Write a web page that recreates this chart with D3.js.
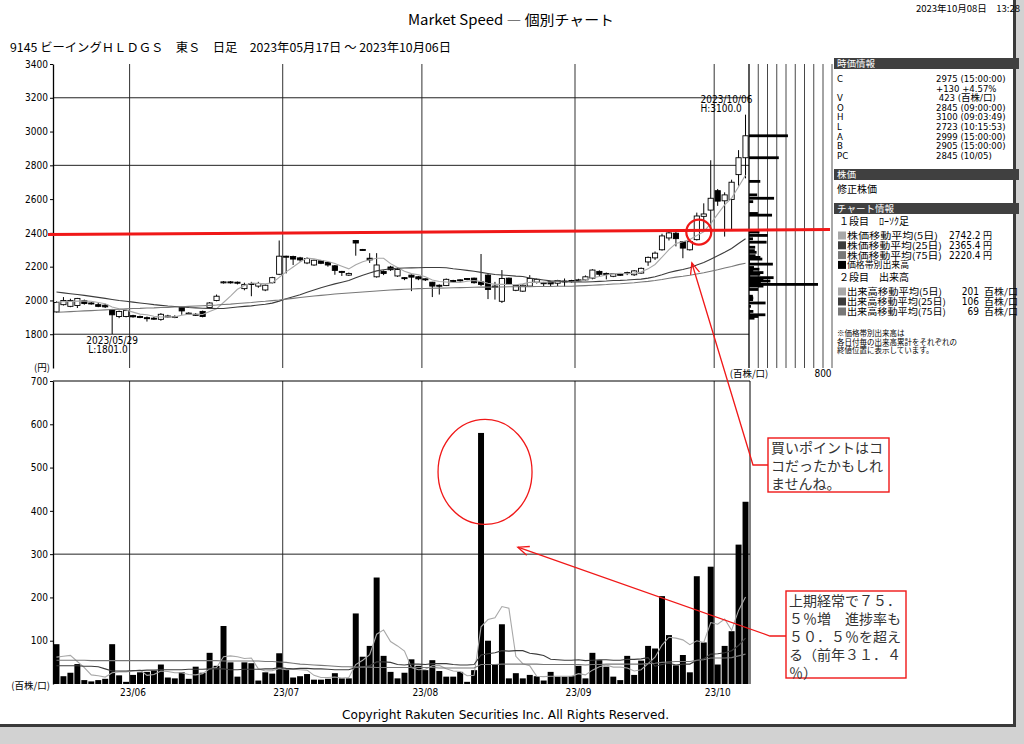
<!DOCTYPE html>
<html>
<head>
<meta charset="utf-8">
<script src="https://cdn.jsdelivr.net/npm/d3@7"></script>
<style>
body { margin: 0; background: #d2d2d2; }
svg { display: block; }
</style>
</head>
<body>
<svg id="chart" width="1024" height="744"></svg>
<script>
// daily candles 2023/05/17 - 2023/10/06 (100 trading days)
const open = [1932,1975,1965,1970,1998,1985,1975,1972,1945,1905,1905,1910,1905,1898,1895,1888,1905,1905,1958,1925,
    1918,1935,1958,2000,2105,2110,2108,2070,2100,2085,2062,2105,2155,2262,2260,2252,2222,2210,2235,2225,
    2205,2172,2150,2355,2302,2250,2140,2172,2198,2145,2135,2150,2140,2128,2108,2090,2088,2118,2122,2130,
    2132,2110,2150,2085,1995,2132,2060,2055,2085,2108,2100,2112,2102,2112,2118,2120,2122,2132,2172,2160,
    2143,2155,2160,2152,2162,2228,2252,2300,2370,2398,2348,2300,2360,2498,2535,2650,2590,2598,2745,2845];
const high = [1995,2020,2010,2015,2005,1990,1985,1980,1950,1940,1945,1915,1910,1905,1902,1925,1915,1912,1962,1930,
    1925,1940,1990,2035,2115,2115,2112,2105,2110,2110,2095,2140,2355,2265,2265,2258,2255,2242,2240,2228,
    2210,2175,2165,2358,2305,2280,2280,2178,2205,2192,2138,2155,2145,2130,2110,2095,2130,2122,2125,2132,
    2135,2275,2155,2110,2180,2135,2092,2095,2150,2130,2110,2115,2122,2130,2122,2128,2148,2185,2178,2165,
    2162,2160,2170,2180,2195,2260,2290,2395,2405,2405,2352,2355,2520,2575,2830,2660,2640,2715,2890,3100];
const low = [1928,1970,1960,1955,1975,1975,1960,1955,1801,1895,1900,1898,1895,1875,1885,1880,1898,1895,1915,1920,
    1908,1900,1950,1995,2100,2100,2095,2060,2025,2075,2055,2100,2150,2160,2210,2230,2215,2205,2215,2200,
    2152,2145,2145,2265,2295,2222,2135,2150,2175,2140,2120,2055,2120,2115,2020,2035,2085,2110,2112,2120,
    2100,2085,2008,2005,1985,2095,2055,2050,2080,2100,2085,2082,2085,2082,2105,2112,2118,2125,2140,2125,
    2138,2145,2150,2145,2158,2205,2240,2295,2355,2320,2250,2295,2355,2418,2380,2560,2378,2420,2680,2723];
const close = [1988,2000,2000,2012,1982,1980,1965,1962,1915,1935,1940,1903,1900,1896,1892,1918,1908,1902,1938,1925,
    1915,1905,1985,2025,2110,2105,2105,2095,2098,2100,2090,2135,2262,2258,2245,2240,2248,2238,2220,2210,
    2178,2168,2160,2340,2298,2240,2210,2160,2182,2183,2130,2138,2128,2122,2085,2085,2125,2115,2118,2128,
    2105,2095,2065,2080,2130,2100,2088,2090,2130,2125,2105,2098,2118,2115,2115,2122,2140,2180,2155,2158,
    2158,2152,2165,2175,2190,2255,2280,2382,2400,2366,2310,2348,2500,2512,2605,2588,2625,2700,2845,2975];
// volume (百株/口)
const volume = [92,18,26,46,9,6,9,12,92,20,5,21,27,28,31,45,15,13,27,12,
    40,26,72,42,134,50,17,50,48,8,27,24,71,35,15,18,23,10,10,12,
    25,13,13,163,63,88,246,65,28,13,26,57,42,32,55,30,17,17,28,5,
    32,580,100,46,138,13,25,13,21,18,8,28,17,17,18,42,13,72,55,40,
    17,9,65,21,54,88,82,203,113,43,67,27,249,96,271,45,88,122,322,421];

// moving averages as drawn
const ma5 = [1990,1992,1994,1996,1996,1995,1988,1980,1961,1951,1943,1931,1919,1915,1906,1902,1903,1903,1912,1918,
    1918,1917,1934,1951,1988,2026,2066,2088,2103,2101,2098,2104,2137,2169,2198,2228,2251,2246,2238,2231,
    2219,2203,2187,2211,2229,2241,2250,2250,2218,2195,2173,2159,2152,2140,2121,2112,2109,2106,2106,2114,
    2118,2112,2102,2095,2095,2094,2093,2098,2108,2107,2108,2110,2115,2112,2110,2114,2122,2134,2142,2151,
    2158,2161,2158,2162,2168,2187,2213,2256,2301,2337,2348,2361,2385,2407,2455,2511,2566,2606,2673,2742];
const ma25 = [2050,2045,2040,2035,2030,2024,2018,2012,2006,2000,1995,1990,1985,1980,1975,1971,1967,1964,1961,1958,
    1956,1954,1953,1952,1952,1957,1961,1965,1968,1973,1977,1984,1996,2010,2022,2034,2048,2062,2075,2087,
    2098,2108,2118,2134,2149,2162,2175,2182,2188,2191,2192,2193,2194,2195,2195,2195,2194,2188,2183,2178,
    2173,2166,2160,2154,2151,2148,2144,2142,2133,2126,2121,2116,2115,2112,2109,2109,2109,2111,2113,2115,
    2118,2119,2121,2124,2126,2132,2140,2152,2165,2175,2183,2193,2210,2225,2244,2264,2285,2308,2337,2365];
const ma75 = [1930,1932,1934,1936,1938,1940,1942,1944,1946,1948,1950,1952,1953,1955,1956,1958,1959,1961,1963,1965,
    1967,1969,1971,1973,1976,1978,1982,1985,1988,1992,1995,1999,2003,2008,2012,2017,2022,2026,2030,2034,
    2038,2041,2044,2047,2050,2053,2056,2059,2062,2064,2066,2068,2070,2071,2072,2073,2074,2075,2076,2077,
    2078,2079,2079,2080,2080,2081,2081,2082,2082,2083,2083,2083,2084,2084,2084,2086,2088,2090,2092,2094,
    2097,2099,2102,2105,2109,2113,2118,2124,2131,2138,2143,2149,2157,2164,2173,2182,2192,2201,2212,2220];
const vma5 = [62,64,66,52,38,21,19,16,26,28,28,30,33,20,22,30,29,26,26,22,
    21,24,35,38,63,65,63,59,60,35,30,31,36,33,34,33,32,20,15,15,
    16,14,15,45,55,68,115,125,98,88,76,38,33,34,42,43,35,30,29,19,
    20,132,149,153,179,175,64,47,42,18,17,18,18,18,18,24,21,32,40,44,
    39,39,37,30,33,47,62,90,108,106,102,91,100,96,142,138,150,124,170,201];
const vma25 = [42,42,42,42,41,41,40,35,30,30,30,31,31,32,32,33,33,33,33,34,
    34,34,35,35,35,33,33,34,34,34,35,35,38,36,35,36,36,35,35,34,
    33,33,33,38,40,42,51,51,50,45,44,46,46,45,47,47,47,45,44,44,
    45,67,70,72,77,76,77,77,71,69,66,57,56,55,55,56,54,55,56,56,
    55,55,57,57,58,61,41,45,48,44,46,46,55,58,69,70,72,77,89,106];
const vma75 = [55,55,55,55,55,54,54,54,54,54,54,54,54,54,54,54,54,54,54,54,
    54,54,54,54,53,53,53,53,53,53,52,52,51,50,48,46,45,44,43,42,
    41,40,40,39,39,39,38,38,38,38,38,38,38,38,38,37,37,37,37,37,
    37,45,45,45,46,46,46,46,46,46,45,45,45,45,45,45,44,45,45,46,
    46,46,46,46,46,47,48,50,51,52,52,52,55,56,60,60,60,61,65,69];

const monthStart = [11, 33, 53, 75, 95];
const monthLabels = ['23/06', '23/07', '23/08', '23/09', '23/10'];
const priceTicks = [1800, 2000, 2200, 2400, 2600, 2800, 3000, 3200, 3400];
const priceGrid = [1800, 2800, 3200];
const volumeTicks = [100, 200, 300, 400, 500, 600, 700];
const volumeGrid = [300];
const vbpTicks = [0, 100, 200, 300, 400, 500, 600, 700, 800];

const infoKeys = ['C', '', 'V', 'O', 'H', 'L', 'A', 'B', 'PC'];
const infoValues = ['2975 (15:00:00)', '+130 +4.57%', ' 423 (百株/口)', '2845 (09:00:00)', '3100 (09:03:49)',
    '2723 (10:15:53)', '2999 (15:00:00)', '2905 (15:00:00)', '2845 (10/05)'];
const priceLegend = ['株価移動平均(5日)', '株価移動平均(25日)', '株価移動平均(75日)', '価格帯別出来高'];
const priceLegendValues = ['2742.2', '2365.4', '2220.4', ''];
const volumeLegend = ['出来高移動平均(5日)', '出来高移動平均(25日)', '出来高移動平均(75日)'];
const volumeLegendValues = ['201', '106', '69'];
const noteLines = ['※価格帯別出来高は', '各日付毎の出来高累計をそれぞれの', '終値位置に表示しています。'];
const memo1 = ['買いポイントはコ', 'コだったかもしれ', 'ませんね。'];
const memo2 = ['上期経常で７５．', '５％増　進捗率も', '５０．５％を超え', 'る（前年３１．４', '％）'];

const NARROW = '"Liberation Sans Narrow", "DejaVu Sans Condensed", "Noto Sans CJK JP", sans-serif';
const JP = '"Noto Sans CJK JP", sans-serif';
const maColors = ['#a8a8a8', '#3c3c3c', '#787878', '#000'];

const svg = d3.select('#chart');

// paper
svg.append('rect').attr('x', 0).attr('y', 0).attr('width', 1016).attr('height', 727).attr('fill', '#3a3a3a');
svg.append('rect').attr('x', 0).attr('y', 0).attr('width', 1013).attr('height', 724).attr('fill', '#fff');

// scales
const days = close.map((d, i) => i);
const x = d3.scaleBand().domain(days).range([53, 749]);
const bw = x.bandwidth();
const cx = i => x(i) + bw / 2;
const y = d3.scaleLinear().domain([1600, 3400]).range([368, 64]);
const vy = d3.scaleLinear().domain([0, 700]).range([684, 381]);
const vbx = d3.scaleLinear().domain([0, 800]).range([749, 823]);

// header
svg.append('text').attr('x', 916).attr('y', 12).attr('font-family', JP).attr('font-size', 9.5)
    .attr('textLength', 104).attr('lengthAdjust', 'spacingAndGlyphs').text('2023年10月08日　13:28');
svg.append('text').attr('x', 408).attr('y', 25).attr('font-family', JP).attr('font-size', 14)
    .attr('textLength', 206).attr('lengthAdjust', 'spacingAndGlyphs').text('Market Speed ― 個別チャート');
svg.append('text').attr('x', 10).attr('y', 52).attr('font-family', JP).attr('font-size', 12)
    .attr('textLength', 441).attr('lengthAdjust', 'spacingAndGlyphs')
    .text('9145 ビーイングＨＬＤＧＳ　東Ｓ　日足　2023年05月17日 ～ 2023年10月06日');
svg.append('text').attr('x', 342).attr('y', 719).attr('font-family', NARROW).attr('font-size', 12)
    .attr('textLength', 327).attr('lengthAdjust', 'spacingAndGlyphs')
    .text('Copyright Rakuten Securities Inc. All Rights Reserved.');

// ---- price panel ----
const priceG = svg.append('g');
priceG.selectAll('.vgrid').data(monthStart).join('line')
    .attr('x1', d => x(d)).attr('x2', d => x(d)).attr('y1', 64).attr('y2', 368)
    .attr('stroke', '#444').attr('stroke-width', 1.1);
priceG.selectAll('.hgrid').data(priceGrid).join('line')
    .attr('x1', 53).attr('x2', 749).attr('y1', d => y(d)).attr('y2', d => y(d))
    .attr('stroke', '#222').attr('stroke-width', 1);

// volume by price grid
priceG.selectAll('.vbgrid').data(vbpTicks).join('line')
    .attr('x1', d => vbx(d)).attr('x2', d => vbx(d)).attr('y1', 64).attr('y2', 368)
    .attr('stroke', d => d === 0 ? '#000' : '#333').attr('stroke-width', d => d === 0 ? 1.3 : 0.9);

// volume by price: each day's volume piled at its close
const vbp = d3.rollups(days, g => d3.sum(g, i => volume[i]), i => Math.floor(close[i] / 10) * 10);
priceG.selectAll('.vbp').data(vbp).join('rect')
    .attr('x', vbx(0)).attr('y', d => y(d[0] + 5) - 1.4)
    .attr('width', d => vbx(d[1]) - vbx(0)).attr('height', 2.8).attr('fill', '#000');

// candles
const candle = priceG.selectAll('.candle').data(days).join('g');
candle.append('line')
    .attr('x1', i => cx(i)).attr('x2', i => cx(i))
    .attr('y1', i => y(high[i])).attr('y2', i => y(low[i]))
    .attr('stroke', '#000').attr('stroke-width', 1);
candle.append('rect')
    .attr('x', i => cx(i) - 2.6).attr('width', 5.2)
    .attr('y', i => y(Math.max(open[i], close[i])))
    .attr('height', i => Math.max(1, Math.abs(y(open[i]) - y(close[i]))))
    .attr('fill', i => close[i] >= open[i] ? '#fff' : '#000')
    .attr('stroke', '#000').attr('stroke-width', 0.9);

const priceLine = d3.line().x((d, i) => cx(i)).y(d => y(d));
[ma5, ma25, ma75].forEach((series, k) => {
    priceG.append('path').datum(series)
        .attr('fill', 'none').attr('stroke', maColors[k]).attr('stroke-width', 1.1)
        .attr('d', priceLine);
});

priceG.append('g').attr('transform', 'translate(53,0)')
    .call(d3.axisLeft(y).tickValues(priceTicks).tickFormat(d3.format('d'))
        .tickSize(3).tickSizeOuter(0).tickPadding(2))
    .attr('font-family', NARROW).attr('font-size', 10)
    .call(g => g.select('.domain').attr('stroke-width', 1.3));

priceG.append('text').attr('x', 50).attr('y', 371).attr('text-anchor', 'end')
    .attr('font-family', JP).attr('font-size', 9.5).text('(円)');
priceG.append('text').attr('x', vbx(0)).attr('y', 377).attr('text-anchor', 'middle')
    .attr('font-family', JP).attr('font-size', 9.5).text('(百株/口)');
priceG.append('text').attr('x', vbx(800)).attr('y', 377).attr('text-anchor', 'middle')
    .attr('font-family', NARROW).attr('font-size', 10).text('800');

// low / high marks
const iLow = d3.minIndex(low);
const iHigh = d3.maxIndex(high);
priceG.append('text').attr('x', cx(iLow)).attr('y', y(low[iLow]) + 10).attr('text-anchor', 'middle')
    .attr('font-family', NARROW).attr('font-size', 10).text('2023/05/29');
priceG.append('text').attr('x', cx(iLow) - 24).attr('y', y(low[iLow]) + 19)
    .attr('font-family', NARROW).attr('font-size', 10).text('L:' + low[iLow].toFixed(1));
priceG.append('text').attr('x', cx(iHigh) - 45).attr('y', y(high[iHigh]) - 12)
    .attr('font-family', NARROW).attr('font-size', 10).text('2023/10/06');
priceG.append('text').attr('x', cx(iHigh) - 45).attr('y', y(high[iHigh]) - 3)
    .attr('font-family', NARROW).attr('font-size', 10).text('H:' + high[iHigh].toFixed(1));

// ---- volume panel ----
const volG = svg.append('g');
volG.selectAll('.vgrid').data(monthStart).join('line')
    .attr('x1', d => x(d)).attr('x2', d => x(d)).attr('y1', 381).attr('y2', 684)
    .attr('stroke', '#444').attr('stroke-width', 1.1);
volG.selectAll('.hgrid').data(volumeGrid).join('line')
    .attr('x1', 53).attr('x2', 750).attr('y1', d => vy(d)).attr('y2', d => vy(d))
    .attr('stroke', '#222');
volG.append('line').attr('x1', 53).attr('x2', 750).attr('y1', vy(700)).attr('y2', vy(700)).attr('stroke', '#000');
volG.append('line').attr('x1', 750).attr('x2', 750).attr('y1', vy(700)).attr('y2', vy(0)).attr('stroke', '#000');

volG.selectAll('.bar').data(days).join('rect')
    .attr('x', i => x(i) + 0.5).attr('width', bw - 1)
    .attr('y', i => vy(volume[i])).attr('height', i => vy(0) - vy(volume[i]))
    .attr('fill', '#000');

const volLine = d3.line().x((d, i) => cx(i)).y(d => vy(d));
[vma5, vma25, vma75].forEach((series, k) => {
    volG.append('path').datum(series)
        .attr('fill', 'none').attr('stroke', maColors[k]).attr('stroke-width', 1.1)
        .attr('d', volLine);
});

volG.append('g').attr('transform', 'translate(53,0)')
    .call(d3.axisLeft(vy).tickValues(volumeTicks).tickSize(3).tickSizeOuter(0).tickPadding(2))
    .attr('font-family', NARROW).attr('font-size', 10)
    .call(g => g.select('.domain').attr('stroke-width', 1.3));
volG.append('g').attr('transform', 'translate(0,684)')
    .call(d3.axisBottom(x).tickValues(monthStart).tickFormat((d, k) => monthLabels[k]).tickSize(0).tickPadding(5))
    .attr('font-family', NARROW).attr('font-size', 10)
    .call(g => g.select('.domain').remove());
volG.append('text').attr('x', 50).attr('y', 689).attr('text-anchor', 'end')
    .attr('font-family', JP).attr('font-size', 9.5).text('(百株/口)');

// ---- info panel ----
const info = svg.append('g');
info.append('line').attr('x1', 832).attr('x2', 832).attr('y1', 64).attr('y2', 368).attr('stroke', '#555');
const header = (label, yTop) => {
    info.append('rect').attr('x', 834).attr('y', yTop).attr('width', 185).attr('height', 11).attr('fill', '#404040');
    info.append('text').attr('x', 837).attr('y', yTop + 9).attr('fill', '#fff')
        .attr('font-family', JP).attr('font-size', 9.5).text(label);
};
header('時価情報', 58);
header('株価', 169);
header('チャート情報', 203);

info.selectAll('.key').data(infoKeys).join('text')
    .attr('x', 837).attr('y', (d, k) => 82 + k * 9.6)
    .attr('font-family', NARROW).attr('font-size', 9.5).text(d => d);
info.selectAll('.val').data(infoValues).join('text')
    .attr('x', 936).attr('y', (d, k) => 82 + k * 9.6).style('white-space', 'pre')
    .attr('font-family', NARROW).attr('font-size', 9.5).text(d => d);

info.append('text').attr('x', 837).attr('y', 193).attr('font-family', JP).attr('font-size', 10).text('修正株価');
info.append('text').attr('x', 839).attr('y', 225).attr('font-family', JP).attr('font-size', 10).text('１段目　ﾛｰｿｸ足');
info.append('text').attr('x', 839).attr('y', 281).attr('font-family', JP).attr('font-size', 10).text('２段目　出来高');

const priceLegendWidth = [91, 95, 95, 62];
priceLegend.forEach((label, k) => {
    const yy = 239 + k * 9.8;
    info.append('rect').attr('x', 838).attr('y', yy - 7.5).attr('width', 8).attr('height', 8).attr('fill', maColors[k]);
    info.append('text').attr('x', 847).attr('y', yy).attr('font-family', JP).attr('font-size', 9)
        .attr('textLength', priceLegendWidth[k]).attr('lengthAdjust', 'spacingAndGlyphs').text(label);
    if (priceLegendValues[k]) {
        info.append('text').attr('x', 949).attr('y', yy).attr('font-family', NARROW).attr('font-size', 10).text(priceLegendValues[k]);
        info.append('text').attr('x', 983).attr('y', yy).attr('font-family', JP).attr('font-size', 9).text('円');
    }
});
const volumeLegendWidth = [95, 99, 99];
volumeLegend.forEach((label, k) => {
    const yy = 295 + k * 10;
    info.append('rect').attr('x', 838).attr('y', yy - 7.5).attr('width', 8).attr('height', 8).attr('fill', maColors[k]);
    info.append('text').attr('x', 847).attr('y', yy).attr('font-family', JP).attr('font-size', 9)
        .attr('textLength', volumeLegendWidth[k]).attr('lengthAdjust', 'spacingAndGlyphs').text(label);
    info.append('text').attr('x', 979).attr('y', yy).attr('text-anchor', 'end')
        .attr('font-family', NARROW).attr('font-size', 10).text(volumeLegendValues[k]);
    info.append('text').attr('x', 984).attr('y', yy).attr('font-family', JP).attr('font-size', 9)
        .attr('textLength', 34).attr('lengthAdjust', 'spacingAndGlyphs').text('百株/口');
});
info.selectAll('.note').data(noteLines).join('text')
    .attr('x', 837).attr('y', (d, k) => 336 + k * 8.6)
    .attr('font-family', JP).attr('font-size', 7.5).text(d => d);

// ---- red annotations ----
const red = '#f01818';
const memo = svg.append('g');
memo.append('line')
    .attr('x1', 48).attr('y1', y(2390)).attr('x2', 830).attr('y2', y(2420))
    .attr('stroke', red).attr('stroke-width', 3);
memo.append('circle').attr('cx', cx(92) + 2).attr('cy', y(2405)).attr('r', 12.5)
    .attr('fill', 'none').attr('stroke', red).attr('stroke-width', 2.2);
memo.append('ellipse').attr('cx', cx(61) + 4).attr('cy', vy(490)).attr('rx', 47).attr('ry', 52.5)
    .attr('fill', 'none').attr('stroke', red).attr('stroke-width', 1.3);

function arrow(points) {
    memo.append('path').attr('d', d3.line()(points))
        .attr('fill', 'none').attr('stroke', red).attr('stroke-width', 1.3);
    const [tx, ty] = points[points.length - 1];
    const [px, py] = points[points.length - 2];
    const a = Math.atan2(py - ty, px - tx);
    const head = [[tx + 12 * Math.cos(a - 0.4), ty + 12 * Math.sin(a - 0.4)], [tx, ty],
        [tx + 12 * Math.cos(a + 0.4), ty + 12 * Math.sin(a + 0.4)]];
    memo.append('path').attr('d', d3.line()(head))
        .attr('fill', 'none').attr('stroke', red).attr('stroke-width', 1.3);
}
arrow([[768, 465], [753, 465], [cx(91) + 2, y(2222)]]);
arrow([[786, 636], [770, 636], [cx(66) + 2, vy(316)]]);

function memoBox(lines, x0, y0, w, h) {
    memo.append('rect').attr('x', x0).attr('y', y0).attr('width', w).attr('height', h)
        .attr('fill', '#fff').attr('stroke', red).attr('stroke-width', 1.4);
    memo.selectAll(null).data(lines).join('text')
        .attr('x', x0 + 3).attr('y', (d, k) => y0 + 15 + k * 18)
        .attr('fill', '#333').attr('font-family', JP).attr('font-size', 14)
        .text(d => d);
}
memoBox(memo1, 768, 438, 121, 54);
memoBox(memo2, 786, 591, 120, 87);
</script>
</body>
</html>
